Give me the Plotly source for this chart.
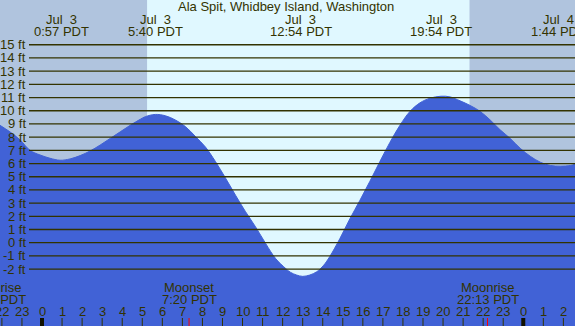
import plotly.graph_objects as go

# ---------------- data ----------------
title = "Ala Spit, Whidbey Island, Washington"
# hours since Jul 3 00:00 PDT
times = [-2.1, -1.6, -1.1, -0.6, -0.1, 0.4, 0.9, 1.4, 1.9, 2.4, 2.9, 3.4, 3.9, 4.4, 4.9,
         5.15, 5.65, 6.15, 6.65, 7.15, 7.65, 8.15, 8.65, 9.15, 9.65, 10.15, 10.65, 11.15,
         11.65, 12.15, 12.4, 12.7, 13.0, 13.35, 13.7, 14.05, 14.35, 14.85, 15.35, 15.85,
         16.35, 16.85, 17.35, 17.85, 18.35, 18.85, 19.35, 19.9, 20.35, 20.85, 21.35, 21.85,
         22.35, 22.85, 23.35, 23.85, 24.35, 24.85, 25.35, 25.85, 26.35, 26.6]
heights = [8.9, 8.4, 7.8, 7.0, 6.65, 6.4, 6.25, 6.35, 6.6, 6.95, 7.4, 7.9, 8.4, 8.9, 9.35,
           9.55, 9.72, 9.62, 9.3, 8.8, 8.05, 7.25, 6.15, 4.9, 3.6, 2.35, 1.2, -0.05,
           -1.2, -1.95, -2.25, -2.45, -2.55, -2.45, -2.2, -1.7, -1.05, 0.3, 1.8, 3.2,
           4.65, 6.15, 7.6, 8.9, 9.95, 10.6, 10.95, 11.1, 11.05, 10.75, 10.4, 9.95,
           9.3, 8.55, 7.9, 7.15, 6.55, 6.1, 5.85, 5.8, 5.85, 5.95]

extreme_times = [0.95, 5.667, 12.9, 19.9, 25.733]
extreme_dates = ["Jul\u00a0\u00a03", "Jul\u00a0\u00a03", "Jul\u00a0\u00a03", "Jul\u00a0\u00a03", "Jul\u00a0\u00a04"]
extreme_labels = ["0:57 PDT", "5:40 PDT", "12:54 PDT", "19:54 PDT", "1:44 PDT"]

ft_levels = list(range(-2, 16))
ft_labels = [f"{v} ft" for v in ft_levels]

hour_ticks = list(range(-2, 27))
hour_labels = [str(h % 24) for h in hour_ticks]

sunrise = 5.24
sunset = 21.32

moon_times = [-2.35, 7.333, 22.217]
moon_names = ["Moonrise", "Moonset", "Moonrise"]
moon_labels = ["21:39 PDT", "7:20 PDT", "22:13 PDT"]

# ---------------- styling ----------------
W, H = 575, 326
X0, X1 = -2.095, 26.58
Y0, Y1 = -6.31, 18.39
night = "#b0c4de"
day = "#e0f8ff"
water = "#4162d6"
ink = "#333300"
font = "Liberation Sans, Arial, sans-serif"
fs = 13

def py(px):
    return 1 - px / H

fig = go.Figure()
fig.add_trace(go.Scatter(x=times, y=[Y0 - 1] * len(times), mode="lines",
                         line=dict(width=0), hoverinfo="skip", showlegend=False))
fig.add_trace(go.Scatter(x=times, y=heights, mode="lines", fill="tonexty",
                         fillcolor=water, line=dict(color=water, width=1, shape="spline", smoothing=1.0),
                         hoverinfo="skip", showlegend=False))

shapes = []
shapes.append(dict(type="rect", xref="x", yref="paper", x0=X0, x1=sunrise, y0=0, y1=1,
                   fillcolor=night, line=dict(width=0), layer="below"))
shapes.append(dict(type="rect", xref="x", yref="paper", x0=sunset, x1=X1, y0=0, y1=1,
                   fillcolor=night, line=dict(width=0), layer="below"))
for v in ft_levels:
    shapes.append(dict(type="line", xref="paper", yref="y", x0=29 / W, x1=1, y0=v, y1=v,
                       line=dict(color=ink, width=1.3), layer="above"))
for h in hour_ticks:
    mid = (h % 24 == 0)
    shapes.append(dict(type="line", xref="x", yref="paper", x0=h, x1=h, y0=py(326), y1=py(318),
                       line=dict(color="#111100" if mid else ink, width=4 if mid else 1), layer="above"))
for t in moon_times:
    shapes.append(dict(type="line", xref="x", yref="paper", x0=t, x1=t, y0=py(326), y1=py(318),
                       line=dict(color="#ff0000", width=1), layer="above"))

ann = []
def txt(text, x, y, xref="paper", yref="paper", xanchor="center"):
    ann.append(dict(text=text, xref=xref, yref=yref, x=x, y=y, showarrow=False,
                    xanchor=xanchor, yanchor="middle", font=dict(size=fs, color=ink, family=font)))

txt(title, 286 / W, py(7))
for t, d, l in zip(extreme_times, extreme_dates, extreme_labels):
    txt(d, t, py(19), xref="x")
    txt(l, t, py(31), xref="x")
for v, l in zip(ft_levels, ft_labels):
    txt(l, 27.5 / W, v, yref="y", xanchor="right")
for h, l in zip(hour_ticks, hour_labels):
    txt(l, h, py(311), xref="x")
for t, n, l in zip(moon_times, moon_names, moon_labels):
    xp = (t - X0) / (X1 - X0)
    txt(n, xp, py(287))
    txt(l, xp, py(299))

fig.update_layout(
    width=W, height=H, margin=dict(l=0, r=0, t=0, b=0, pad=0),
    paper_bgcolor=day, plot_bgcolor=day,
    xaxis=dict(range=[X0, X1], visible=False, fixedrange=True),
    yaxis=dict(range=[Y0, Y1], visible=False, fixedrange=True),
    shapes=shapes, annotations=ann, showlegend=False,
)
fig.write_html("out.html", config={"displayModeBar": False},
               post_script="document.body.style.margin='0';document.body.style.padding='0';document.body.style.overflow='hidden';")
